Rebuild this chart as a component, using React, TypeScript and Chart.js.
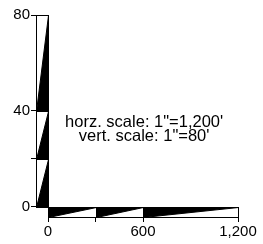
import React, { useEffect, useRef } from 'react';
import { Chart, registerables } from 'chart.js';

Chart.register(...registerables);

// Scale-bar segment breaks (data units)
const vertBreaks = [0, 20, 40, 80];
const vertLabels = [0, 40, 80];
const horzBreaks = [0, 300, 600, 1200];
const horzLabels = [0, 600, 1200];
const noteLines = ['horz. scale: 1"=1,200\'', 'vert. scale: 1"=80\''];
const notePos = { x: 607, y: [35.4, 29.2] };

const X_MIN = -76; // vertical bar thickness in x units
const Y_MIN = -4.2; // horizontal bar thickness in y units
const FONT = 'Liberation Sans, Arial, sans-serif';

const scaleBarPlugin = {
  id: 'scaleBars',
  afterDraw(chart: any) {
    const { ctx, scales } = chart;
    const xs = scales.x;
    const ys = scales.y;
    const px = (v: number) => Math.round(xs.getPixelForValue(v)) + 0.5;
    const py = (v: number) => Math.round(ys.getPixelForValue(v)) + 0.5;
    ctx.save();
    ctx.lineWidth = 1;
    ctx.strokeStyle = '#000';
    ctx.fillStyle = '#000';

    // vertical bar triangles
    for (let i = 0; i < vertBreaks.length - 1; i++) {
      const a = vertBreaks[i];
      const b = vertBreaks[i + 1];
      ctx.beginPath();
      ctx.moveTo(px(0), py(b));
      ctx.lineTo(px(X_MIN), py(a));
      ctx.lineTo(px(0), py(a));
      ctx.closePath();
      ctx.fill();
      ctx.stroke();
    }
    const vTop = vertBreaks[vertBreaks.length - 1];
    ctx.strokeRect(px(X_MIN), py(vTop), px(0) - px(X_MIN), py(0) - py(vTop));

    // horizontal bar triangles
    for (let i = 0; i < horzBreaks.length - 1; i++) {
      const a = horzBreaks[i];
      const b = horzBreaks[i + 1];
      ctx.beginPath();
      ctx.moveTo(px(a), py(0));
      ctx.lineTo(px(a), py(Y_MIN));
      ctx.lineTo(px(b), py(0));
      ctx.closePath();
      ctx.fill();
      ctx.stroke();
    }
    const hEnd = horzBreaks[horzBreaks.length - 1];
    ctx.strokeRect(px(0), py(0), px(hEnd) - px(0), py(Y_MIN) - py(0));

    // note text
    ctx.font = `16.5px ${FONT}`;
    ctx.textAlign = 'center';
    ctx.textBaseline = 'middle';
    noteLines.forEach((t, i) => {
      ctx.fillText(t, xs.getPixelForValue(notePos.x), ys.getPixelForValue(notePos.y[i]));
    });
    ctx.restore();
  },
};

export default function App() {
  const ref = useRef<HTMLCanvasElement | null>(null);
  useEffect(() => {
    if (!ref.current) return;
    const chart = new Chart(ref.current, {
      type: 'scatter',
      data: { datasets: [{ data: [], pointRadius: 0 }] },
      options: {
        animation: false,
        responsive: true,
        maintainAspectRatio: false,
        layout: { padding: { top: 15, right: 25, left: 0, bottom: 0 } },
        plugins: { legend: { display: false }, tooltip: { enabled: false } },
        scales: {
          x: {
            type: 'linear',
            min: X_MIN,
            max: horzBreaks[horzBreaks.length - 1],
            afterBuildTicks: (s: any) => {
              s.ticks = horzBreaks.map((v) => ({ value: v }));
            },
            afterFit: (s: any) => {
              s.height = 27;
            },
            border: { display: false },
            grid: { display: true, drawOnChartArea: false, drawTicks: true, tickLength: 5, color: '#000', lineWidth: 1 },
            ticks: {
              autoSkip: false,
              maxRotation: 0,
              padding: 1,
              color: '#000',
              font: { family: FONT, size: 15 },
              callback: (v: any) => (horzLabels.includes(Number(v)) ? Number(v).toLocaleString('en-US') : ''),
            },
          },
          y: {
            type: 'linear',
            min: Y_MIN,
            max: vertBreaks[vertBreaks.length - 1],
            afterBuildTicks: (s: any) => {
              s.ticks = vertBreaks.map((v) => ({ value: v }));
            },
            afterFit: (s: any) => {
              s.width = 36;
            },
            border: { display: false },
            grid: { display: true, drawOnChartArea: false, drawTicks: true, tickLength: 5, color: '#000', lineWidth: 1 },
            ticks: {
              autoSkip: false,
              padding: 1,
              color: '#000',
              font: { family: FONT, size: 15 },
              callback: (v: any) => (vertLabels.includes(Number(v)) ? String(v) : ''),
            },
          },
        },
      },
      plugins: [scaleBarPlugin],
    });
    return () => chart.destroy();
  }, []);
  return (
    <div style={{ position: 'fixed', left: 0, top: 0, width: 263, height: 244, background: '#fff' }}>
      <canvas ref={ref} />
    </div>
  );
}
